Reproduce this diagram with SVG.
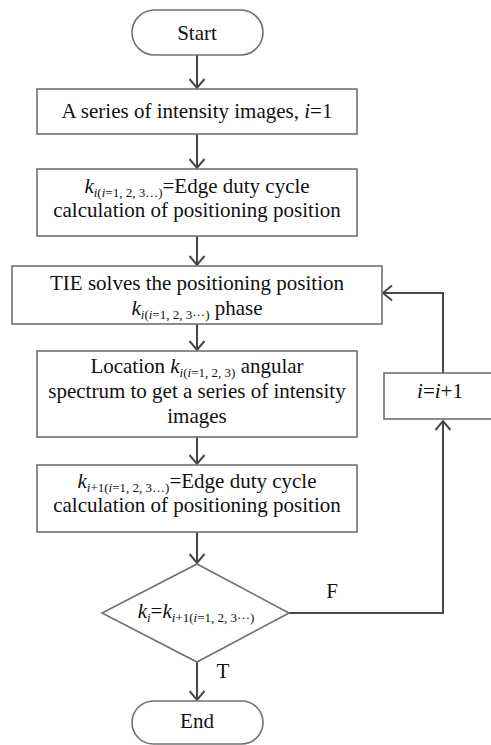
<svg xmlns="http://www.w3.org/2000/svg" width="491" height="745" viewBox="0 0 491 745">
<defs>
<style>
.box{fill:#fff;stroke:#707070;stroke-width:1.6}
.t{font-family:"Liberation Serif","Times New Roman","DejaVu Serif","Noto Serif",serif;font-size:21px;fill:#111;text-anchor:middle}
.s{font-size:13px}
.it{font-style:italic}
.c{fill:none;stroke:#484848;stroke-width:2}
</style>
<marker id="ah" viewBox="-10 -9 12 18" markerWidth="12" markerHeight="18" refX="0" refY="0" orient="auto" markerUnits="userSpaceOnUse">
<path d="M-9,-7.5 L0,0 L-9,7.5" fill="none" stroke="#484848" stroke-width="2"/>
</marker>
</defs>
<rect width="491" height="745" fill="#fff"/>
<g id="connectors">
<line class="c" x1="197" y1="55" x2="197" y2="88" marker-end="url(#ah)"/>
<line class="c" x1="197" y1="134" x2="197" y2="168" marker-end="url(#ah)"/>
<line class="c" x1="197" y1="236" x2="197" y2="265" marker-end="url(#ah)"/>
<line class="c" x1="197" y1="324" x2="197" y2="350" marker-end="url(#ah)"/>
<line class="c" x1="197" y1="437" x2="197" y2="464" marker-end="url(#ah)"/>
<line class="c" x1="197" y1="532" x2="197" y2="563" marker-end="url(#ah)"/>
<line class="c" x1="197" y1="662" x2="197" y2="700" marker-end="url(#ah)"/>
<polyline class="c" points="289,613 443,613 443,421" marker-end="url(#ah)"/>
<polyline class="c" points="443,373 443,293 383,293" marker-end="url(#ah)"/>
</g>
<g id="start">
<rect class="box" x="132" y="10" width="131" height="45" rx="22.5"/>
<text class="t" x="197" y="40">Start</text>
</g>
<g id="box1">
<rect class="box" x="37" y="89" width="320" height="45"/>
<text class="t" x="197" y="118">A series of intensity images, <tspan class="it">i</tspan>=1</text>
</g>
<g id="box2">
<rect class="box" x="37" y="169" width="320" height="67"/>
<text class="t" x="197" y="193"><tspan class="it">k</tspan><tspan class="s" dy="4"><tspan class="it">i</tspan>(<tspan class="it">i</tspan>=1, 2, 3…)</tspan><tspan dy="-4">=Edge duty cycle</tspan></text>
<text class="t" x="197" y="217">calculation of positioning position</text>
</g>
<g id="tie">
<rect class="box" x="12" y="266" width="370" height="58"/>
<text class="t" x="197" y="290">TIE solves the positioning position</text>
<text class="t" x="197" y="315"><tspan class="it">k</tspan><tspan class="s" dy="4"><tspan class="it">i</tspan>(<tspan class="it">i</tspan>=1, 2, 3···)</tspan><tspan dy="-4"> phase</tspan></text>
</g>
<g id="location">
<rect class="box" x="37" y="351" width="320" height="86"/>
<text class="t" x="197" y="373">Location <tspan class="it">k</tspan><tspan class="s" dy="4"><tspan class="it">i</tspan>(<tspan class="it">i</tspan>=1, 2, 3)</tspan><tspan dy="-4"> angular</tspan></text>
<text class="t" x="197" y="398">spectrum to get a series of intensity</text>
<text class="t" x="197" y="423">images</text>
</g>
<g id="box5">
<rect class="box" x="37" y="465" width="320" height="67"/>
<text class="t" x="197" y="488"><tspan class="it">k</tspan><tspan class="s" dy="4"><tspan class="it">i</tspan>+1(<tspan class="it">i</tspan>=1, 2, 3…)</tspan><tspan dy="-4">=Edge duty cycle</tspan></text>
<text class="t" x="197" y="512">calculation of positioning position</text>
</g>
<g id="decision">
<polygon class="box" points="197,564 289,613 197,662 102,613"/>
<text class="t" x="196" y="618"><tspan class="it">k</tspan><tspan class="s it" dy="4">i</tspan><tspan dy="-4">=</tspan><tspan class="it">k</tspan><tspan class="s" dy="4"><tspan class="it">i</tspan>+1(<tspan class="it">i</tspan>=1, 2, 3···)</tspan></text>
</g>
<g id="increment">
<rect class="box" x="384" y="373" width="112" height="46"/>
<text class="t" x="440" y="398"><tspan class="it">i</tspan>=<tspan class="it">i</tspan>+1</text>
</g>
<g id="end">
<rect class="box" x="132" y="701" width="131" height="43" rx="21.5"/>
<text class="t" x="197" y="728">End</text>
</g>
<g id="labels">
<text class="t" x="332" y="598">F</text>
<text class="t" x="223" y="678">T</text>
</g>
</svg>
